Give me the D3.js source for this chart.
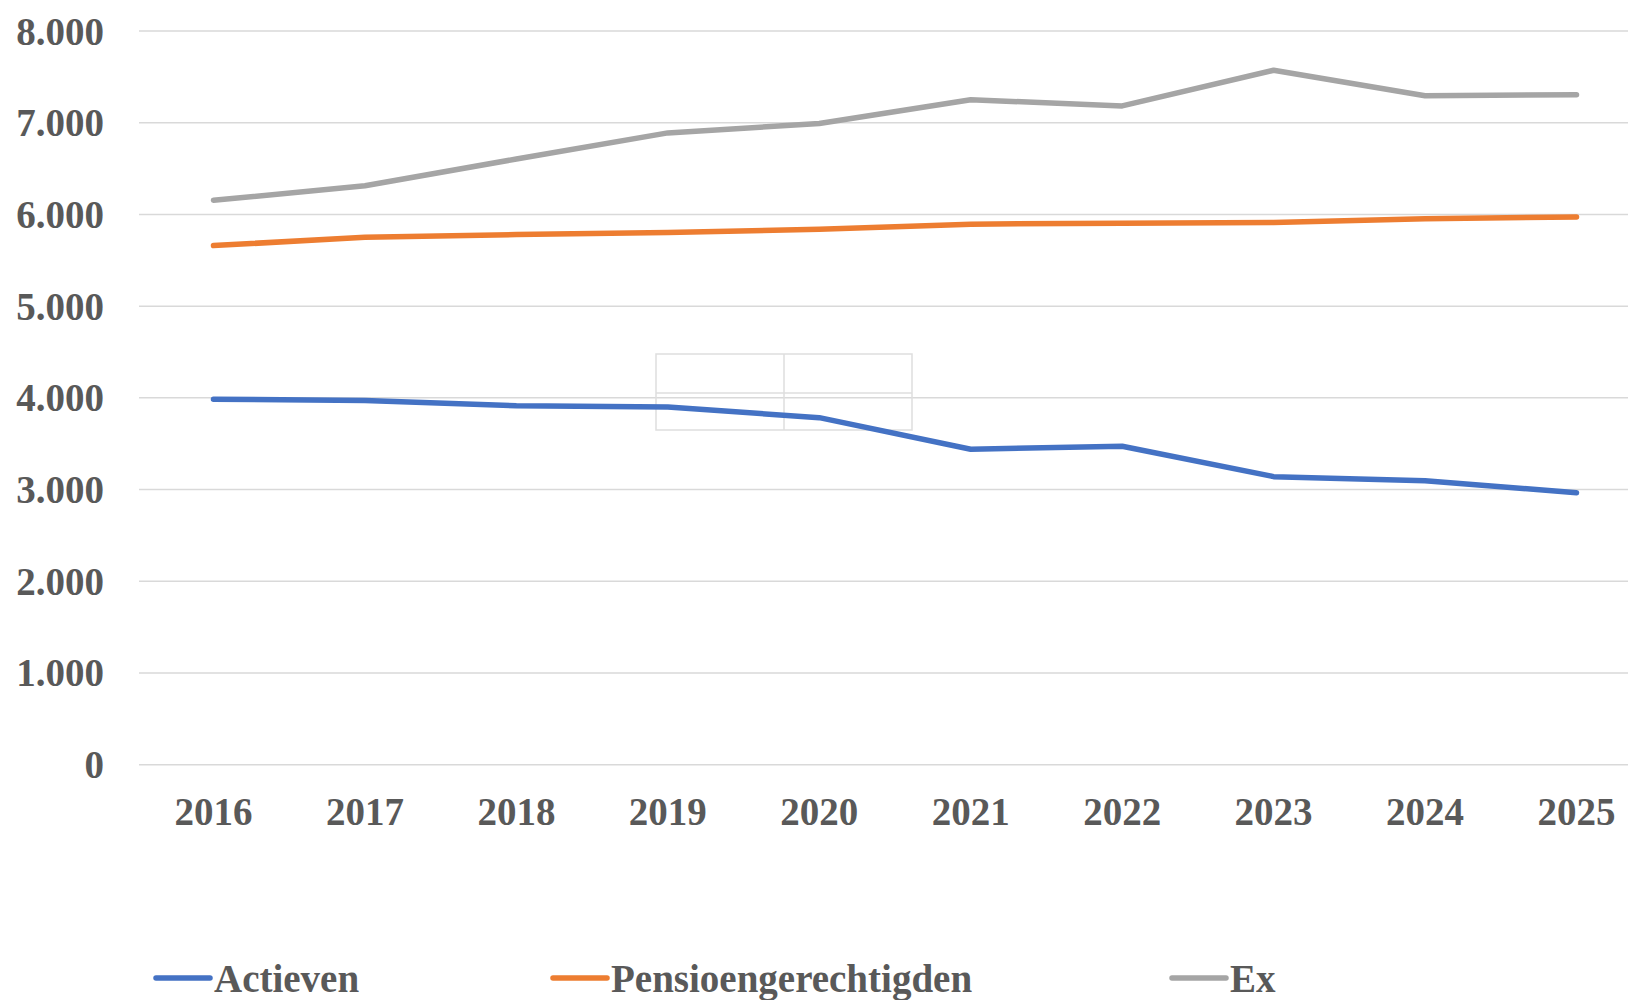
<!DOCTYPE html>
<html lang="nl">
<head>
  <meta charset="UTF-8">
  <title>Actieven, Pensioengerechtigden en Ex</title>
  <script src="https://d3js.org/d3.v7.min.js"></script>
  <style>
    html, body { margin: 0; padding: 0; background: #fff; }
    svg { display: block; font-family: "Liberation Serif", "Times New Roman", serif; }
    .tick-label { font-size: 39px; font-weight: bold; fill: #595959; }
    .grid line { stroke: #d9d9d9; stroke-width: 1.5; }
    .series { fill: none; stroke-width: 5.5; stroke-linecap: round; stroke-linejoin: round; }
  </style>
</head>
<body>
<svg width="1628" height="1000"></svg>
<script>
const years = ["2016", "2017", "2018", "2019", "2020", "2021", "2022", "2023", "2024", "2025"];
const actieven = [3985, 3971, 3914, 3900, 3784, 3439, 3473, 3141, 3097, 2966];
const pensioengerechtigden = [5660, 5751, 5781, 5803, 5837, 5894, 5905, 5911, 5954, 5973];
const ex = [6154, 6312, 6604, 6889, 6991, 7251, 7183, 7572, 7294, 7305];
const yTicks = [0, 1000, 2000, 3000, 4000, 5000, 6000, 7000, 8000];

const series = [
  { name: "Actieven", values: actieven, color: "#4472c4" },
  { name: "Pensioengerechtigden", values: pensioengerechtigden, color: "#ed7d31" },
  { name: "Ex", values: ex, color: "#a5a5a5" }
];

const svg = d3.select("svg");

const x = d3.scalePoint().domain(years).range([213.5, 1576.5]);
const y = d3.scaleLinear().domain([0, 8000]).range([764.7, 31]);
const fmt = d3.formatLocale({ decimal: ",", thousands: ".", grouping: [3], currency: ["€", ""] }).format(",d");

// gridlines
const grid = svg.append("g").attr("class", "grid");
grid.selectAll("line")
  .data(yTicks)
  .enter().append("line")
  .attr("x1", 139)
  .attr("x2", 1628)
  .attr("y1", d => y(d))
  .attr("y2", d => y(d));

// y labels
svg.append("g").selectAll("text")
  .data(yTicks)
  .enter().append("text")
  .attr("class", "tick-label")
  .attr("x", 104)
  .attr("y", d => y(d))
  .attr("text-anchor", "end")
  .attr("dominant-baseline", "central")
  .text(d => fmt(d));

// x labels
svg.append("g").selectAll("text")
  .data(years)
  .enter().append("text")
  .attr("class", "tick-label")
  .attr("x", d => x(d))
  .attr("y", 811)
  .attr("text-anchor", "middle")
  .attr("dominant-baseline", "central")
  .text(d => d);

// stray table outline in the middle of the plot
const box = svg.append("g")
  .attr("fill", "none")
  .attr("stroke", "#dedede")
  .attr("stroke-width", 1.5);
box.append("rect").attr("x", 656).attr("y", 354).attr("width", 256).attr("height", 76);
box.append("line").attr("x1", 784).attr("x2", 784).attr("y1", 354).attr("y2", 430);
box.append("line").attr("x1", 656).attr("x2", 912).attr("y1", 393).attr("y2", 393);

// lines
const line = d3.line()
  .x((d, i) => x(years[i]))
  .y(d => y(d));

svg.append("g").selectAll("path")
  .data(series)
  .enter().append("path")
  .attr("class", "series")
  .attr("stroke", d => d.color)
  .attr("d", d => line(d.values));

// legend
const legendX = [154, 551, 1170];
const legend = svg.append("g").selectAll("g")
  .data(series)
  .enter().append("g")
  .attr("transform", (d, i) => `translate(${legendX[i]},978)`);

legend.append("line")
  .attr("x1", 2)
  .attr("x2", 56)
  .attr("stroke", d => d.color)
  .attr("stroke-width", 5.5)
  .attr("stroke-linecap", "round");

legend.append("text")
  .attr("class", "tick-label")
  .attr("x", 60)
  .attr("dominant-baseline", "central")
  .text(d => d.name);
</script>
</body>
</html>
